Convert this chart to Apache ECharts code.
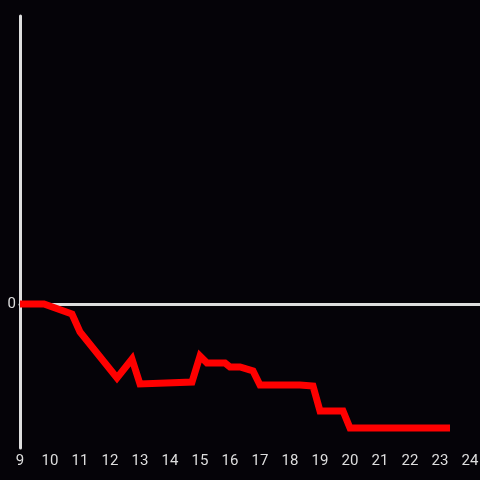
<!DOCTYPE html>
<html>
<head>
<meta charset="utf-8">
<script src="https://cdn.jsdelivr.net/npm/echarts@6/dist/echarts.min.js"></script>
<style>
  html, body { margin: 0; padding: 0; background: #050308; }
  #chart { width: 480px; height: 480px; }
</style>
</head>
<body>
<div id="chart"></div>
<script>
// hour of day and value
const hours = [9.0, 9.8, 10.733, 11.0, 12.233, 12.733, 13.0, 14.733, 15.0, 15.233, 15.833, 16.0, 16.333, 16.767, 17.0, 18.333, 18.767, 19.0, 19.767, 20.0, 23.333];
const values = [0, 0, -10, -28, -74, -55, -80, -78, -52, -59, -59, -63, -63, -67, -81, -81, -82, -107, -107, -124, -124];

const xMin = 9;
const xMax = 24.333;
const yMin = -144;
const yMax = 288;

const axisColor = '#dedede';
const labelFont = { color: axisColor, fontSize: 15, fontFamily: 'Roboto, sans-serif' };

const chart = echarts.init(document.getElementById('chart'));

chart.setOption({
    backgroundColor: '#050308',
    animation: false,
    grid: { left: 20, right: 0, top: 16, bottom: 32, outerBoundsMode: 'none', containLabel: false },
    xAxis: [
        {
            type: 'value',
            min: xMin,
            max: xMax,
            interval: 1,
            position: 'bottom',
            axisLine: { show: false, onZero: false },
            axisTick: { show: false },
            splitLine: { show: false },
            axisLabel: {
                ...labelFont,
                margin: 6,
                formatter: v => Number.isInteger(v) ? String(v) : ''
            }
        },
        {
            // zero line
            type: 'value',
            min: xMin,
            max: xMax,
            axisLine: { show: true, onZero: true, lineStyle: { color: axisColor, width: 3 } },
            axisTick: { show: false },
            axisLabel: { show: false },
            splitLine: { show: false }
        }
    ],
    yAxis: {
        type: 'value',
        min: yMin,
        max: yMax,
        interval: 48,
        axisLine: { show: true, onZero: false, lineStyle: { color: axisColor, width: 3 } },
        axisTick: { show: false },
        splitLine: { show: false },
        axisLabel: {
            ...labelFont,
            margin: 4,
            padding: [7, 0, 0, 0],
            formatter: v => v === 0 ? '0' : ''
        }
    },
    series: [
        {
            type: 'line',
            xAxisIndex: 0,
            data: hours.map((h, i) => [h, values[i]]),
            symbol: 'none',
            lineStyle: { color: '#ff0000', width: 7, join: 'miter' },
            z: 5
        }
    ]
});
</script>
</body>
</html>
